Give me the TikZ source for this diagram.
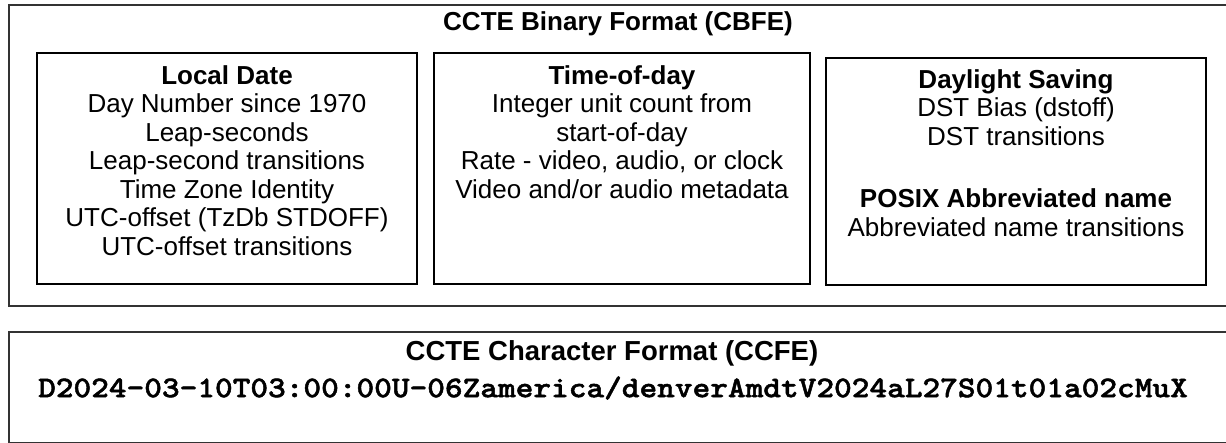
\documentclass[tikz,border=0pt]{standalone}
\usepackage{fontspec}
\setmainfont{Liberation Sans}
\newfontfamily\stampfont{lmmonolt10-bold.otf}[FakeStretch=1.123,FakeBold=1.6]
\usetikzlibrary{positioning}
\tikzset{
  frame/.style={draw=black!80,line width=2pt,outer sep=0pt,inner sep=0pt},
  field/.style={draw=black,line width=2pt,outer sep=0pt,inner sep=0pt,anchor=north west},
  body/.style={align=center,inner sep=0pt,font=\fontsize{26}{28.5}\selectfont},
  title/.style={inner sep=0pt,font=\bfseries\fontsize{26}{30}\selectfont},
  stamp/.style={inner sep=0pt,font=\stampfont\fontsize{30}{32}\selectfont},
}

\begin{document}
\begin{tikzpicture}[x=1pt,y=-1pt]
  \useasboundingbox (0,0) rectangle (1226,443);
  \clip (0,0) rectangle (1226,443);

  % binary format
  \node[frame,minimum width=1240,minimum height=301,anchor=north west] (cbfe) at (8.5,5) {};
  \node[title] (cbfetitle) at (618,24) {CCTE Binary Format (CBFE)};

  \node[field,minimum width=380,minimum height=231] (datebox) at (37,53) {};
  \node[body,below=12pt of datebox.north] (datetext)
    {{\bfseries Local Date}\\Day Number since 1970\\Leap-seconds\\Leap-second transitions\\
     Time Zone Identity\\UTC-offset (TzDb STDOFF)\\UTC-offset transitions};

  \node[field,minimum width=376,minimum height=231] (todbox) at (434,53) {};
  \node[body,below=12pt of todbox.north] (todtext)
    {{\bfseries Time-of-day}\\Integer unit count from\\start-of-day\\
     Rate - video, audio, or clock\\Video and/or audio metadata};

  \node[field,minimum width=380,minimum height=227] (dstbox) at (826,58) {};
  \node[body,below=11pt of dstbox.north] (dsttext)
    {{\bfseries Daylight Saving}\\DST Bias (dstoff)\\DST transitions\\[34pt]
     {\bfseries POSIX Abbreviated name}\\Abbreviated name transitions};

  % character format
  \node[frame,minimum width=1240,minimum height=110.5,anchor=north west] (ccfe) at (8.5,332) {};
  \node[title,font=\bfseries\fontsize{27.5}{30}\selectfont] (ccfetitle) at (612,353)
    {CCTE Character Format (CCFE)};
  \node[stamp] (ccfestamp) at (613,388)
    {D2024-03-10T03:00:00U-06Zamerica/denverAmdtV2024aL27S01t01a02cMuX};
\end{tikzpicture}
\end{document}
